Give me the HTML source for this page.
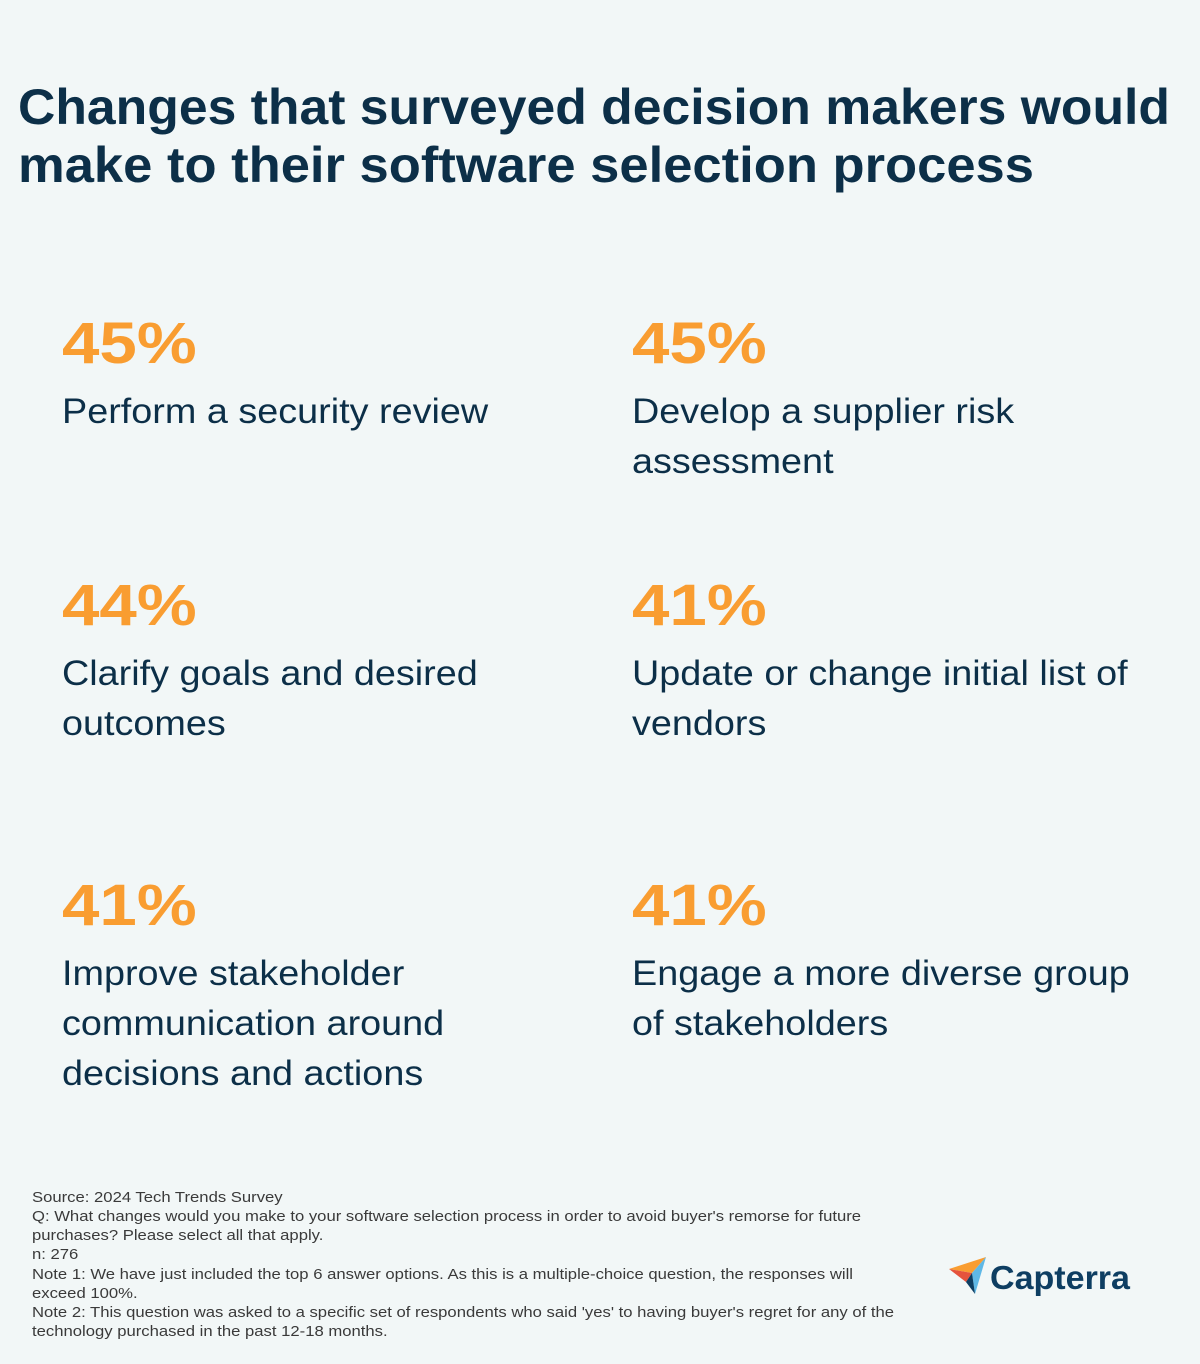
<!DOCTYPE html>
<html><head><meta charset="utf-8"><style>
html,body{margin:0;padding:0;background:#f2f7f7;}
svg{display:block}
</style></head><body>
<svg id="chart" width="1200" height="1364" viewBox="0 0 1200 1364" xmlns="http://www.w3.org/2000/svg" font-family="'Liberation Sans', sans-serif">
<rect width="1200" height="1364" fill="#f2f7f7"/>
<g fill="#0c2f48" font-weight="bold" font-size="50">
<text x="18" y="124" textLength="1152" lengthAdjust="spacingAndGlyphs">Changes that surveyed decision makers would</text>
<text x="18" y="182" textLength="1016" lengthAdjust="spacingAndGlyphs">make to their software selection process</text>
</g>
<g id="stats"></g>
<g fill="#3a3a3a" font-size="14.5" transform="translate(32,0) scale(1.15,1)">
<text x="0" y="1202">Source: 2024 Tech Trends Survey</text>
<text x="0" y="1221">Q: What changes would you make to your software selection process in order to avoid buyer's remorse for future</text>
<text x="0" y="1240">purchases? Please select all that apply.</text>
<text x="0" y="1259">n: 276</text>
<text x="0" y="1279">Note 1: We have just included the top 6 answer options. As this is a multiple-choice question, the responses will</text>
<text x="0" y="1298">exceed 100%.</text>
<text x="0" y="1317">Note 2: This question was asked to a specific set of respondents who said 'yes' to having buyer's regret for any of the</text>
<text x="0" y="1336">technology purchased in the past 12-18 months.</text>
</g>
<g>
<polygon points="949,1269 986,1257 972,1273" fill="#f99d31"/>
<polygon points="949,1269 972,1273 966,1282" fill="#e5533d"/>
<polygon points="986,1257 972,1273 975,1294" fill="#5fb8e6"/>
<polygon points="966,1282 972,1273 975,1294" fill="#0e3e62"/>
<text x="990" y="1289" font-size="33" font-weight="bold" fill="#0e3e62" textLength="140" lengthAdjust="spacingAndGlyphs">Capterra</text>
</g>
</svg>
<script>
const values = [45, 45, 44, 41, 41, 41];
const labels = [
  ["Perform a security review"],
  ["Develop a supplier risk","assessment"],
  ["Clarify goals and desired","outcomes"],
  ["Update or change initial list of","vendors"],
  ["Improve stakeholder","communication around","decisions and actions"],
  ["Engage a more diverse group","of stakeholders"]
];
const NS="http://www.w3.org/2000/svg";
const g=document.getElementById('stats');
const colX=[62,632], rowY=[363,625,925];
values.forEach((v,i)=>{
  const x=colX[i%2], y=rowY[Math.floor(i/2)];
  const grp=document.createElementNS(NS,'g');
  
  
  const t=document.createElementNS(NS,'text');
  
  
  t.setAttribute('x',0);t.setAttribute('y',y);
  t.setAttribute('transform','translate('+x+',0) scale(1.16,1)');
  t.setAttribute('font-size','58');t.setAttribute('font-weight','bold');t.setAttribute('fill','#f99d31');
  t.textContent=v+'%';
  grp.appendChild(t);
  labels[i].forEach((ln,j)=>{
    const l=document.createElementNS(NS,'text');
    
    
    l.setAttribute('x',0);l.setAttribute('y',y+60+j*50);
    l.setAttribute('transform','translate('+x+',0) scale(1.08,1)');
    l.setAttribute('font-size','35');l.setAttribute('fill','#0c2f48');
    l.textContent=ln;
    grp.appendChild(l);
  });
  g.appendChild(grp);
});
</script>
</body></html>
